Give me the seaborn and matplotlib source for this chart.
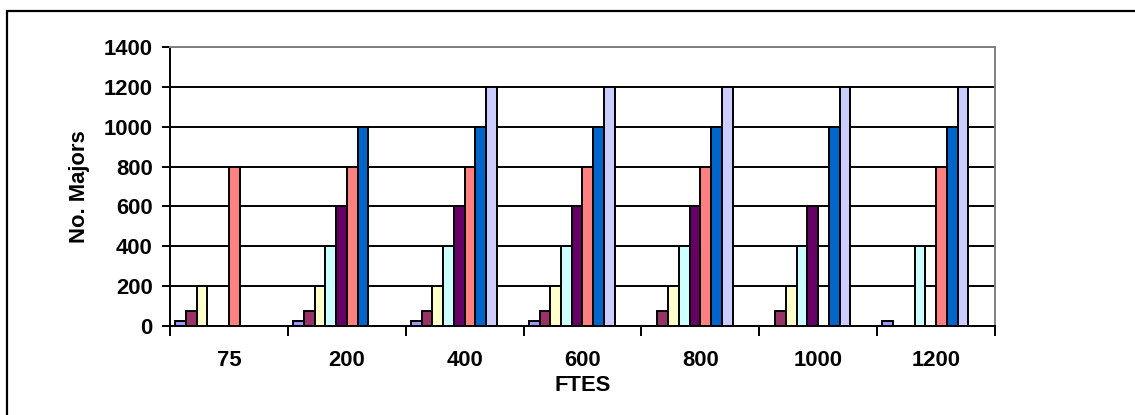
import matplotlib.pyplot as plt
import pandas as pd
import seaborn as sns
from matplotlib.patches import Rectangle

sns.set_theme(style='white')
plt.rcParams['font.family'] = ['Liberation Sans', 'DejaVu Sans']
plt.rcParams['font.weight'] = 'bold'
plt.rcParams['text.color'] = 'black'
plt.rcParams['axes.labelcolor'] = 'black'
plt.rcParams['xtick.color'] = 'black'
plt.rcParams['ytick.color'] = 'black'

# categories on the x axis
ftes = ['75', '200', '400', '600', '800', '1000', '1200']

# one list per series, None where no bar is drawn
s1 = [25, 25, 25, 25, None, None, 25]
s2 = [75, 75, 75, 75, 75, 75, None]
s3 = [200, 200, 200, 200, 200, 200, None]
s4 = [None, 400, 400, 400, 400, 400, 400]
s5 = [None, 600, 600, 600, 600, 600, None]
s6 = [800, 800, 800, 800, 800, None, 800]
s7 = [None, 1000, 1000, 1000, 1000, 1000, 1000]
s8 = [None, None, 1200, 1200, 1200, 1200, 1200]

series = ['s1', 's2', 's3', 's4', 's5', 's6', 's7', 's8']
colors = ['#9999FF', '#993366', '#FFFFCC', '#CCFFFF',
          '#660066', '#FF8080', '#0066CC', '#CCCCFF']

# long format table for seaborn
values = [s1, s2, s3, s4, s5, s6, s7, s8]
df = pd.DataFrame({
    'FTES': ftes * len(series),
    'series': [s for s in series for _ in ftes],
    'majors': [v for vals in values for v in vals],
}).dropna()

# the chart reserves room for two more (empty) series slots
hue_order = series + ['s9', 's10']
pal = dict(zip(series, colors))
pal['s9'] = 'white'
pal['s10'] = 'white'

fig = plt.figure(figsize=(11.35, 4.15), dpi=100)
ax = fig.add_axes([170 / 1135, 1 - 326 / 415, 825 / 1135, 279 / 415])

sns.barplot(data=df, x='FTES', y='majors', hue='series', order=ftes,
            hue_order=hue_order, palette=pal, width=0.911, gap=0,
            errorbar=None, edgecolor='black', linewidth=1.4,
            saturation=1, legend=False, ax=ax)

ax.set_xlim(-0.5, 6.5)
ax.set_ylim(0, 1400)
ax.set_yticks(range(0, 1401, 200))
ax.set_axisbelow(True)
ax.yaxis.grid(True, color='black', linewidth=1.4)
ax.xaxis.grid(False)

# spines: black left/bottom, grey top/right
for side in ['left', 'bottom']:
    ax.spines[side].set_color('black')
    ax.spines[side].set_linewidth(1.4)
for side in ['top', 'right']:
    ax.spines[side].set_color('#808080')
    ax.spines[side].set_linewidth(1.4)

# ticks between the categories, like excel
ax.set_xticks([i - 0.5 for i in range(8)], minor=True)
ax.tick_params(axis='x', which='major', length=0, pad=17, labelsize=15.8)
ax.tick_params(axis='x', which='minor', bottom=True, length=7, width=1.4,
               color='black', direction='out')
ax.tick_params(axis='y', left=True, length=5.5, width=1.4, color='black',
               direction='out', pad=7, labelsize=15.8)

ax.set_xlabel('FTES', fontsize=15.8, fontweight='bold')
ax.set_ylabel('No. Majors', fontsize=15.8, fontweight='bold')
ax.xaxis.set_label_coords(0.5, -0.175)
ax.yaxis.set_label_coords(-0.097, 0.5)

# outer chart frame
fig.add_artist(Rectangle((7 / 1135, -0.1), 1.2, 1 - 10.7 / 415 + 0.1,
                         transform=fig.transFigure, fill=False,
                         edgecolor='black', linewidth=1.6, clip_on=False))

fig.savefig('out.png', dpi=100)
